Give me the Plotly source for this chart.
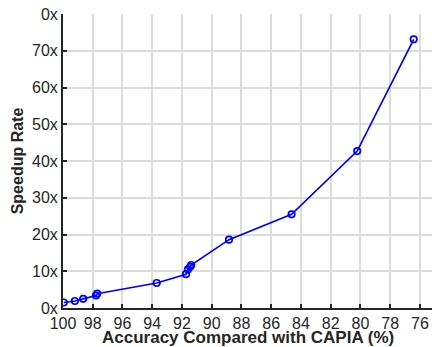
import plotly.graph_objects as go

# Accuracy relative to CAPIA (%) and the corresponding speedup
accuracy = [99.95, 99.2, 98.64, 97.78, 97.7, 93.7, 91.73, 91.6, 91.45, 91.38, 88.84, 84.63, 80.22, 76.42]
speedup = [1.5, 1.9, 2.5, 3.4, 3.9, 6.8, 9.2, 10.5, 11.2, 11.7, 18.6, 25.5, 42.7, 73.1]

x_ticks = [100, 98, 96, 94, 92, 90, 88, 86, 84, 82, 80, 78, 76]
y_ticks = [0, 10, 20, 30, 40, 50, 60, 70, 80]
y_tick_text = ["0x", "10x", "20x", "30x", "40x", "50x", "60x", "70x", "0x"]
x_title = "Accuracy Compared with CAPIA (%)"
y_title = "Speedup Rate"

blue = "#0000ff"
axis_col = "#262626"
grid_col = "#dcdcdc"
font_family = "Liberation Sans, Arial, sans-serif"

fig = go.Figure(
    go.Scatter(
        x=accuracy,
        y=speedup,
        mode="lines+markers",
        line=dict(color=blue, width=1.7),
        marker=dict(symbol="circle-open", size=6.5, color=blue, line=dict(width=1.7, color=blue)),
        showlegend=False,
    )
)

fig.update_layout(
    width=432,
    height=347,
    margin=dict(l=63, r=0, t=14, b=39),
    paper_bgcolor="white",
    plot_bgcolor="white",
    font=dict(family=font_family, size=16, color=axis_col),
)

common_axis = dict(
    ticks="inside",
    ticklen=4,
    tickwidth=2,
    tickcolor=axis_col,
    showline=True,
    linecolor=axis_col,
    linewidth=2,
    showgrid=True,
    gridcolor=grid_col,
    gridwidth=1.6,
    zeroline=False,
    tickfont=dict(size=16, color=axis_col),
)

fig.update_xaxes(
    range=[100, 75.19],
    tickvals=x_ticks,
    ticktext=[str(v) for v in x_ticks],
    **common_axis,
)

fig.update_yaxes(
    range=[0, 80],
    tickvals=y_ticks,
    ticktext=y_tick_text,
    title=dict(
        text="<b>" + y_title + "</b>",
        font=dict(size=16, color=axis_col),
        standoff=4,
    ),
    **common_axis,
)

# x-axis title placed just under the tick labels
fig.add_annotation(
    text="<b>" + x_title + "</b>",
    xref="paper",
    yref="paper",
    x=0.5,
    y=0,
    xanchor="center",
    yanchor="bottom",
    yshift=-40,
    showarrow=False,
    borderpad=0,
    font=dict(size=17, color=axis_col),
)

fig.write_html("out.html")
